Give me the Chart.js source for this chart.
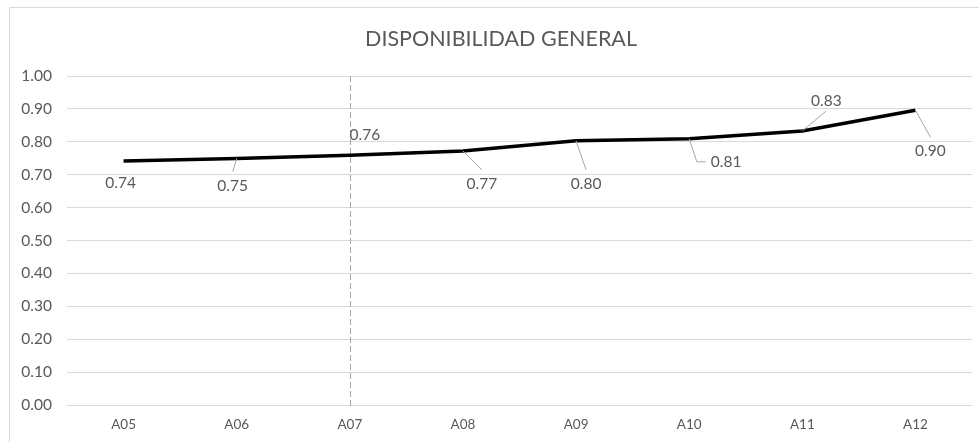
<!DOCTYPE html>
<html>
<head>
<meta charset="utf-8">
<script src="https://cdn.jsdelivr.net/npm/chart.js@4/dist/chart.umd.min.js"></script>
<style>
  html, body { margin: 0; padding: 0; background: #fff; }
</style>
</head>
<body>
<canvas id="chart" width="979" height="442"></canvas>
<script>
// Datos del gráfico
const chartTitle = 'DISPONIBILIDAD GENERAL';
const categorias = ['A05', 'A06', 'A07', 'A08', 'A09', 'A10', 'A11', 'A12'];
const disponibilidad = [0.742, 0.749, 0.759, 0.772, 0.803, 0.809, 0.833, 0.896];
const yTicks = [0, 0.1, 0.2, 0.3, 0.4, 0.5, 0.6, 0.7, 0.8, 0.9, 1.0];
const marcaVertical = 'A07';

// Desplazamiento de cada etiqueta respecto a su punto (estilo)
const offsetsEtiquetas = [[-3, 22], [-4, 27], [15, -20], [19, 33], [10, 43], [37, 23], [24, -30], [15, 41]];

const FONT = 'Lato, "Open Sans", sans-serif';
const GRIS_TEXTO = '#595959';

// Marco, título, línea vertical y etiquetas de datos
const decoraciones = {
    id: 'decoraciones',
    beforeDraw(chart) {
        const ctx = chart.ctx;
        ctx.save();
        ctx.strokeStyle = '#d9d9d9';
        ctx.lineWidth = 1;
        ctx.beginPath();
        ctx.moveTo(9.5, 442);
        ctx.lineTo(9.5, 7.5);
        ctx.lineTo(979, 7.5);
        ctx.stroke();

        ctx.fillStyle = GRIS_TEXTO;
        ctx.font = '21.5px ' + FONT;
        ctx.textAlign = 'center';
        ctx.textBaseline = 'middle';
        ctx.fillText(chartTitle, 501, 39);
        ctx.restore();
    },
    beforeDatasetsDraw(chart) {
        const ctx = chart.ctx;
        const x = chart.scales.x.getPixelForValue(categorias.indexOf(marcaVertical));
        const y = chart.scales.y;
        ctx.save();
        ctx.strokeStyle = '#a6a6a6';
        ctx.lineWidth = 1;
        ctx.setLineDash([6, 3]);
        ctx.beginPath();
        ctx.moveTo(Math.round(x) + 0.5, y.getPixelForValue(1));
        ctx.lineTo(Math.round(x) + 0.5, y.getPixelForValue(0) + 4);
        ctx.stroke();
        ctx.restore();
    },
    afterDatasetsDraw(chart) {
        const ctx = chart.ctx;
        const meta = chart.getDatasetMeta(0);
        ctx.save();
        ctx.font = '15.5px ' + FONT;
        ctx.textAlign = 'center';
        ctx.textBaseline = 'middle';
        meta.data.forEach((pt, i) => {
            const [dx, dy] = offsetsEtiquetas[i];
            const cx = pt.x + dx;
            const cy = pt.y + dy;
            const txt = disponibilidad[i].toFixed(2);
            const w = ctx.measureText(txt).width;
            ctx.strokeStyle = '#a6a6a6';
            ctx.lineWidth = 1;
            ctx.beginPath();
            if (Math.abs(dx) > 30) {
                const left = cx - w / 2;
                ctx.moveTo(pt.x, pt.y);
                ctx.lineTo(left - 14, cy);
                ctx.lineTo(left - 5, cy);
                ctx.stroke();
            } else if (Math.abs(dy) > 24) {
                const ey = dy > 0 ? cy - 14 : cy + 10;
                ctx.moveTo(pt.x, pt.y);
                ctx.lineTo(cx, ey);
                ctx.stroke();
            }
            ctx.fillStyle = GRIS_TEXTO;
            ctx.fillText(txt, cx, cy);
        });
        ctx.restore();
    }
};

new Chart(document.getElementById('chart'), {
    type: 'line',
    data: {
        labels: categorias,
        datasets: [{
            data: disponibilidad,
            borderColor: '#000000',
            borderWidth: 3.5,
            pointRadius: 0,
            tension: 0,
            fill: false
        }]
    },
    options: {
        responsive: false,
        animation: false,
        devicePixelRatio: 1,
        layout: { padding: { left: 10, right: 7, top: 76, bottom: 0 } },
        plugins: {
            legend: { display: false },
            title: { display: false },
            tooltip: { enabled: false }
        },
        scales: {
            x: {
                offset: true,
                grid: { display: false, drawTicks: false },
                border: { display: false },
                ticks: { color: GRIS_TEXTO, font: { family: FONT, size: 13.5 }, padding: 12, maxRotation: 0 },
                afterFit: (s) => { s.height = 37; }
            },
            y: {
                min: 0,
                max: 1,
                afterBuildTicks: (s) => { s.ticks = yTicks.map(v => ({ value: v })); },
                grid: { color: '#d9d9d9', lineWidth: 1, drawTicks: false },
                border: { display: false },
                ticks: {
                    color: GRIS_TEXTO,
                    font: { family: FONT, size: 15.5 },
                    padding: 15,
                    callback: (v) => Number(v).toFixed(2)
                },
                afterFit: (s) => { s.width = 57; }
            }
        }
    },
    plugins: [decoraciones]
});
</script>
</body>
</html>
